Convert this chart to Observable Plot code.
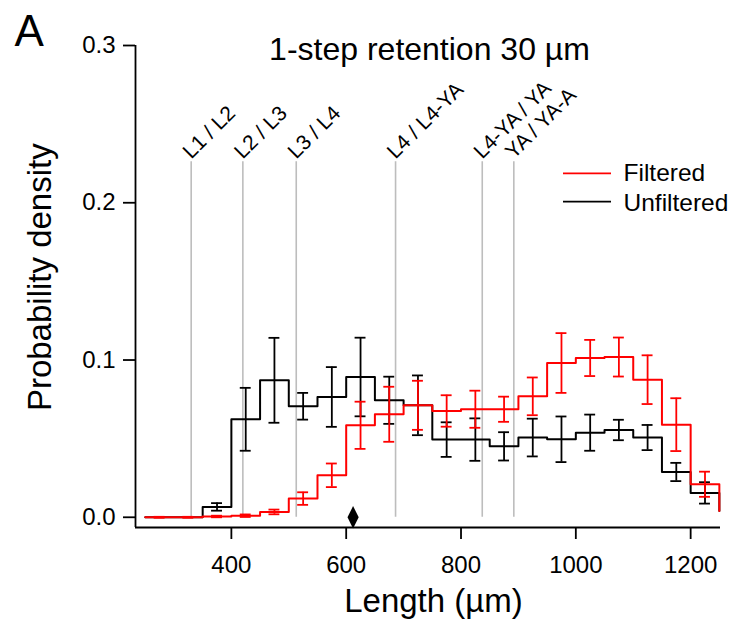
<!DOCTYPE html>
<html>
<head>
<meta charset="utf-8">
<script src="https://cdn.jsdelivr.net/npm/d3@7"></script>
<script src="https://cdn.jsdelivr.net/npm/@observablehq/plot@0.6"></script>
<style>
  html, body { margin: 0; padding: 0; background: white; }
</style>
</head>
<body>
<div id="chart"></div>
<script>
// ---- Data ----
const binStarts = [250, 300, 350, 400, 450, 500, 550, 600, 650, 700, 750, 800, 850, 900, 950, 1000, 1050, 1100, 1150, 1200];
const binWidth = 50;
const tailEdge = 1250;

const filtered      = [0, 0, 0.0005, 0.001, 0.0034, 0.0119, 0.0267, 0.0585, 0.0655, 0.0712, 0.0676, 0.0687, 0.0687, 0.0769, 0.0981, 0.1013, 0.1019, 0.0875, 0.0589, 0.021];
const filteredErr   = [0.0003, 0.0003, 0.0005, 0.0008, 0.0015, 0.004, 0.0075, 0.015, 0.0175, 0.0156, 0.010, 0.0118, 0.008, 0.012, 0.019, 0.0115, 0.0124, 0.0155, 0.0168, 0.008];
const filteredTail  = 0.004;

const unfiltered    = [0, 0, 0.0066, 0.0623, 0.0871, 0.0706, 0.0765, 0.0892, 0.0744, 0.0712, 0.0494, 0.0494, 0.0451, 0.0507, 0.0496, 0.0538, 0.0555, 0.0507, 0.0288, 0.0155];
const unfilteredErr = [0, 0, 0.0024, 0.020, 0.027, 0.0085, 0.019, 0.025, 0.015, 0.019, 0.011, 0.0135, 0.009, 0.012, 0.0145, 0.0115, 0.0065, 0.008, 0.0058, 0.0068];
const unfilteredTail = 0.004;

const stageLabels = ["L1 / L2", "L2 / L3", "L3 / L4", "L4 / L4-YA", "L4-YA / YA", "YA / YA-A"];
const stageLengths = [330, 420, 513, 686, 837, 892];
const stageLineTop = 0.226;

const markerLength = [612];

const xTicks = [400, 600, 800, 1000, 1200];
const yTicks = [0.0, 0.1, 0.2, 0.3];
const xDomain = [233, 1252];
const yDomain = [-0.0065, 0.3];

const legendLabels = ["Filtered", "Unfiltered"];
const legendColors = ["#ff0000", "#000000"];

const titleText = "1-step retention 30 µm";
const panelLetter = "A";
const xLabel = "Length (µm)";
const yLabel = "Probability density";

// ---- Derived tables ----
function stepTable(values, tail) {
  const rows = binStarts.map((s, i) => ({x: s, y: values[i]}));
  rows.push({x: tailEdge, y: tail});
  return rows;
}
function errTable(values, errs) {
  return binStarts.map((s, i) => ({
    c: s + binWidth / 2,
    lo: values[i] - errs[i],
    hi: values[i] + errs[i]
  })).filter(d => d.hi > d.lo);
}
const capHalf = 9.5;
const stages = stageLabels.map((l, i) => ({label: l, x: stageLengths[i]}));

function errorMarks(table, color) {
  return [
    Plot.ruleX(table, {x: "c", y1: "lo", y2: "hi", stroke: color, strokeWidth: 1.8}),
    Plot.ruleY(table, {y: "hi", x1: d => d.c - capHalf, x2: d => d.c + capHalf, stroke: color, strokeWidth: 1.8}),
    Plot.ruleY(table, {y: "lo", x1: d => d.c - capHalf, x2: d => d.c + capHalf, stroke: color, strokeWidth: 1.8})
  ];
}

// Tall diamond symbol
const tallDiamond = {
  draw(context, size) {
    const r = Math.sqrt(size / Math.PI);
    context.moveTo(0, -2 * r);
    context.lineTo(r, 0);
    context.lineTo(0, 2 * r);
    context.lineTo(-r, 0);
    context.closePath();
  }
};

// Legend line swatches (pixel layout)
function legendSwatches(index, scales, values, dimensions) {
  const g = d3.create("svg:g");
  const right = dimensions.width - dimensions.marginRight;
  legendLabels.forEach((label, i) => {
    g.append("line")
      .attr("x1", right - 157).attr("x2", right - 109)
      .attr("y1", dimensions.marginTop + 128.3 + i * 28.4)
      .attr("y2", dimensions.marginTop + 128.3 + i * 28.4)
      .attr("stroke", legendColors[i]).attr("stroke-width", 1.8);
  });
  return g.node();
}

const font = "'Liberation Sans', Arial, Helvetica, sans-serif";

const chart = Plot.plot({
  width: 735,
  height: 619,
  marginLeft: 135,
  marginRight: 15,
  marginTop: 45,
  marginBottom: 92,
  style: {fontFamily: font, background: "white", color: "black"},
  x: {domain: xDomain},
  y: {domain: yDomain},
  marks: [
    // stage boundary lines
    Plot.ruleX(stages, {x: "x", y1: 0, y2: stageLineTop, stroke: "#bdbdbd", strokeWidth: 1.6}),
    Plot.text(stages, {x: "x", y: () => stageLineTop, text: "label", rotate: -45, textAnchor: "start", lineAnchor: "bottom", fontSize: 21, dy: -2, fill: "black"}),
    // unfiltered (black)
    Plot.line(stepTable(unfiltered, unfilteredTail), {x: "x", y: "y", curve: "step-after", stroke: "black", strokeWidth: 2}),
    ...errorMarks(errTable(unfiltered, unfilteredErr), "black"),
    // filtered (red)
    Plot.line(stepTable(filtered, filteredTail), {x: "x", y: "y", curve: "step-after", stroke: "#ff0000", strokeWidth: 2}),
    ...errorMarks(errTable(filtered, filteredErr), "#ff0000"),
    // marker
    Plot.dot(markerLength, {x: d => d, y: () => 0, symbol: tallDiamond, r: 5.6, fill: "black", stroke: "none"}),
    // axes lines
    Plot.ruleX([xDomain[0]], {stroke: "black", strokeWidth: 1.8}),
    Plot.ruleY([yDomain[0]], {stroke: "black", strokeWidth: 1.8}),
    Plot.axisX(xTicks, {anchor: "bottom", tickSize: 12, tickPadding: 16, fontSize: 24, label: null, strokeWidth: 1.8, tickFormat: d3.format("d"), fill: "black"}),
    Plot.axisY(yTicks, {anchor: "left", tickSize: 12, tickPadding: 8, fontSize: 24, label: null, strokeWidth: 1.8, tickFormat: d3.format(".1f"), fill: "black"}),
    // axis titles
    Plot.text([xLabel], {frameAnchor: "bottom", textAnchor: "middle", lineAnchor: "bottom", dx: 5.5, dy: 84.7, fontSize: 33, fill: "black"}),
    Plot.text([yLabel], {frameAnchor: "left", textAnchor: "middle", lineAnchor: "bottom", rotate: -90, dx: -85, dy: -9.3, fontSize: 33, fill: "black"}),
    // title and panel letter
    Plot.text([titleText], {frameAnchor: "top", textAnchor: "middle", lineAnchor: "bottom", dx: 1.5, dy: 14.3, fontSize: 32, fill: "black"}),
    Plot.text([panelLetter], {frameAnchor: "top-left", textAnchor: "start", lineAnchor: "bottom", dx: -121, dy: 0.7, fontSize: 44, fill: "black"}),
    // legend
    legendSwatches,
    Plot.text([legendLabels[0]], {frameAnchor: "top-right", textAnchor: "start", lineAnchor: "bottom", dx: -97, dy: 135.7, fontSize: 24.5, fill: "black"}),
    Plot.text([legendLabels[1]], {frameAnchor: "top-right", textAnchor: "start", lineAnchor: "bottom", dx: -97, dy: 165, fontSize: 24.5, fill: "black"})
  ]
});

document.getElementById("chart").appendChild(chart);
</script>
</body>
</html>
